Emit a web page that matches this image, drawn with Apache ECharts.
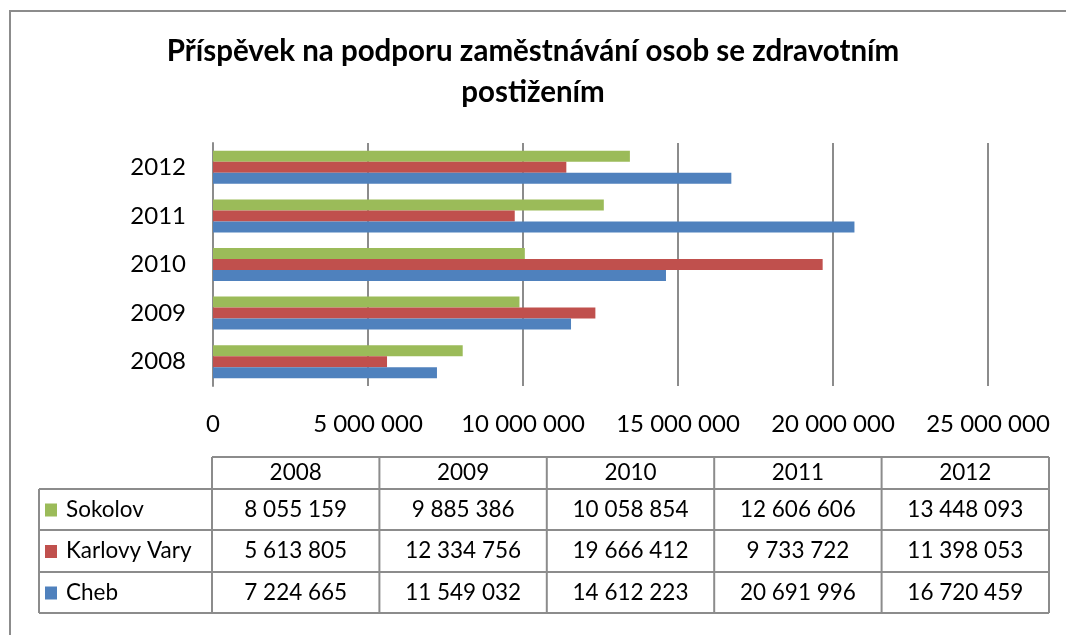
<!DOCTYPE html>
<html lang="cs">
<head>
    <meta charset="UTF-8">
    <title>Příspěvek na podporu zaměstnávání</title>
    <script src="https://cdn.jsdelivr.net/npm/echarts@6/dist/echarts.min.js"></script>
    <style>
        html, body { margin: 0; padding: 0; background: #fff; }
    </style>
</head>
<body>
<div id="main" style="width: 1066px;height: 635px"></div>
<script>
    let years = ['2008', '2009', '2010', '2011', '2012']
    let names = ['Sokolov', 'Karlovy Vary', 'Cheb']
    let colors = ['#9BBB59', '#C0504D', '#4F81BD']
    let sokolov = [8055159, 9885386, 10058854, 12606606, 13448093]
    let karlovyVary = [5613805, 12334756, 19666412, 9733722, 11398053]
    let cheb = [7224665, 11549032, 14612223, 20691996, 16720459]
    let values = [sokolov, karlovyVary, cheb]

    function fmt(v) {
        return String(v).replace(/\B(?=(\d{3})+(?!\d))/g, ' ')
    }

    let font = 'Lato'
    let lineCol = '#8c8c8c'
    let tblFont = '22.5px ' + font

    // table under the chart (same look as the excel data table)
    let tblLeft = 39, colStart = 212, tblRight = 1049
    let rowY = [457, 489, 530, 572, 613]
    let colW = (tblRight - colStart) / years.length
    let g = []
    // outer frame of the chart
    g.push({type: 'rect', shape: {x: 10, y: 11, width: 1200, height: 800},
        style: {fill: null, stroke: '#8c8c8c', lineWidth: 2}, z: -1})
    // horizontal lines
    g.push({type: 'line', shape: {x1: colStart, y1: rowY[0], x2: tblRight, y2: rowY[0]}, style: {stroke: lineCol, lineWidth: 2}})
    for (let r = 1; r < rowY.length; r++) {
        g.push({type: 'line', shape: {x1: tblLeft, y1: rowY[r], x2: tblRight, y2: rowY[r]}, style: {stroke: lineCol, lineWidth: 2}})
    }
    // vertical lines
    g.push({type: 'line', shape: {x1: tblLeft, y1: rowY[1], x2: tblLeft, y2: rowY[4]}, style: {stroke: lineCol, lineWidth: 2}})
    for (let c = 0; c <= years.length; c++) {
        let x = colStart + c * colW
        g.push({type: 'line', shape: {x1: x, y1: rowY[0], x2: x, y2: rowY[4]}, style: {stroke: lineCol, lineWidth: 2}})
    }
    // header
    for (let c = 0; c < years.length; c++) {
        g.push({type: 'text', x: colStart + (c + 0.5) * colW, y: (rowY[0] + rowY[1]) / 2,
            style: {text: years[c], fill: '#000', font: tblFont, align: 'center', verticalAlign: 'middle'}})
    }
    // rows
    for (let r = 0; r < names.length; r++) {
        let cy = (rowY[r + 1] + rowY[r + 2]) / 2
        g.push({type: 'rect', shape: {x: 45, y: cy - 6, width: 12, height: 13}, style: {fill: colors[r]}})
        g.push({type: 'text', x: 66, y: cy,
            style: {text: names[r], fill: '#000', font: tblFont, align: 'left', verticalAlign: 'middle'}})
        for (let c = 0; c < years.length; c++) {
            g.push({type: 'text', x: colStart + (c + 0.5) * colW, y: cy,
                style: {text: fmt(values[r][c]), fill: '#000', font: tblFont, align: 'center', verticalAlign: 'middle'}})
        }
    }

    // first series ends up on top of each category band
    let series = []
    for (let i = 0; i < names.length; i++) {
        series.push({
            name: names[i],
            type: 'bar',
            barWidth: 11,
            barGap: '0%',
            itemStyle: {color: colors[i]},
            data: values[i]
        })
    }

    let mycharts = echarts.init(document.getElementById('main'))
    mycharts.setOption({
        animation: false,
        title: {
            text: 'Příspěvek na podporu zaměstnávání osob se zdravotním\npostižením',
            left: 'center',
            top: 26,
            textStyle: {fontFamily: font, fontWeight: 'bold', fontSize: 29.5, lineHeight: 41, color: '#000'}
        },
        grid: {left: 213, right: 78, top: 143, bottom: 249, containLabel: false},
        xAxis: {
            type: 'value',
            min: 0,
            max: 25000000,
            interval: 5000000,
            axisLine: {show: false},
            axisTick: {show: false},
            splitLine: {show: true, lineStyle: {color: '#8c8c8c', width: 2}},
            axisLabel: {
                margin: 26,
                fontFamily: font,
                fontSize: 24,
                color: '#000',
                formatter: function (v) { return fmt(v) }
            }
        },
        yAxis: {
            type: 'category',
            data: years,
            axisLine: {show: true, lineStyle: {color: '#8c8c8c', width: 2}},
            axisTick: {show: false},
            axisLabel: {margin: 27, fontFamily: font, fontSize: 24, color: '#000'}
        },
        graphic: g,
        series: series
    })
</script>
</body>
</html>
